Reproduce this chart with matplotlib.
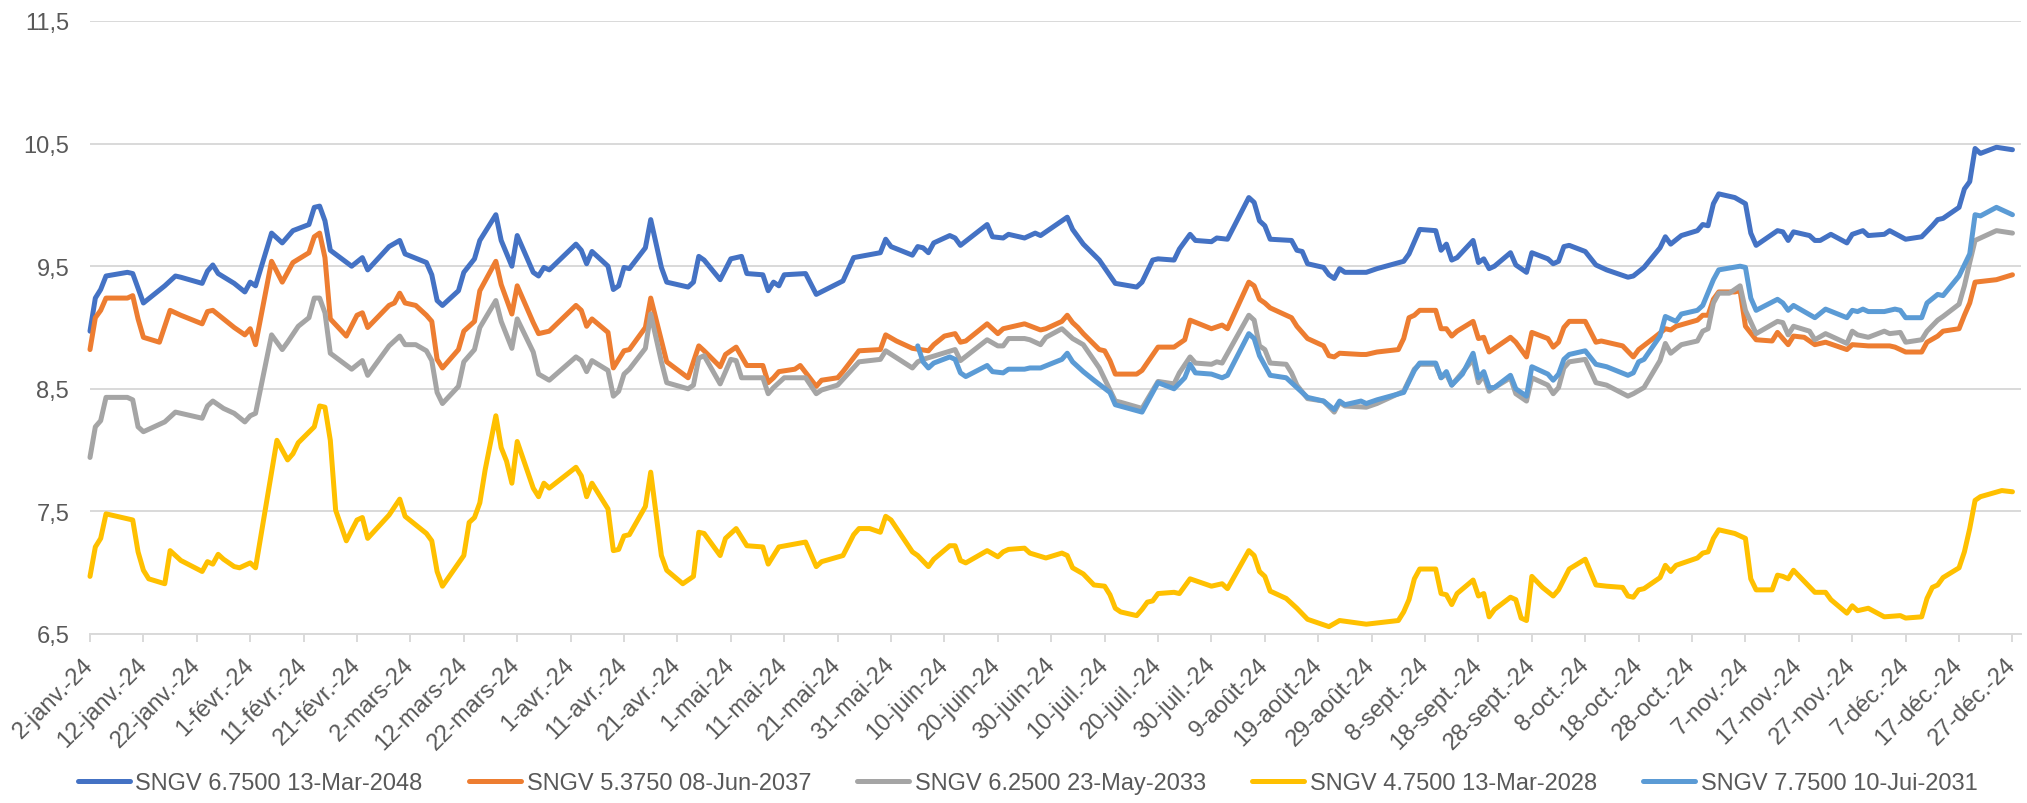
import matplotlib
matplotlib.use("Agg")
import matplotlib.pyplot as plt
import matplotlib.dates as mdates
import pandas as pd

plt.rcParams['font.family'] = ['Liberation Sans', 'DejaVu Sans']

START = pd.Timestamp('2024-01-02')

series_names = ['SNGV 6.7500 13-Mar-2048', 'SNGV 5.3750 08-Jun-2037',
                'SNGV 6.2500 23-May-2033', 'SNGV 4.7500 13-Mar-2028',
                'SNGV 7.7500 10-Jui-2031']
series_colors = ['#4472C4', '#ED7D31', '#A5A5A5', '#FFC000', '#5B9BD5']

# day offsets from 2 Jan 2024 and yields (%)
s2048_days = [0, 1, 2, 3, 7, 8, 10, 14, 16, 17,
              21, 22, 23, 24, 27, 29, 30, 31, 34, 36,
              38, 41, 42, 43, 44, 45, 49, 51, 52, 56,
              58, 59, 63, 64, 65, 66, 69, 70, 72, 73,
              76, 77, 79, 80, 83, 84, 85, 86, 91, 92,
              93, 94, 97, 98, 99, 100, 101, 104, 105, 107,
              108, 112, 113, 114, 115, 118, 120, 122, 123, 126,
              127, 128, 129, 130, 134, 136, 141, 143, 148, 149,
              150, 154, 155, 156, 157, 158, 161, 162, 163, 168,
              169, 171, 172, 175, 177, 178, 183, 184, 186, 189,
              192, 196, 197, 199, 200, 203, 204, 206, 207, 210,
              211, 213, 217, 218, 219, 220, 221, 225, 226, 227,
              228, 231, 232, 233, 234, 235, 239, 241, 246, 247,
              249, 252, 253, 254, 255, 256, 259, 260, 261, 262,
              263, 266, 267, 269, 270, 273, 274, 275, 276, 277,
              280, 282, 284, 288, 289, 291, 294, 295, 296, 298,
              301, 302, 303, 304, 305, 308, 310, 311, 312, 316,
              317, 318, 319, 322, 323, 324, 326, 329, 330, 332,
              333, 336, 337, 340, 343, 345, 346, 347, 350, 351,
              352, 353, 354, 357, 360]
s2048_vals = [8.97, 9.24, 9.31, 9.42, 9.45, 9.44, 9.20, 9.34, 9.42, 9.41,
              9.36, 9.46, 9.51, 9.44, 9.36, 9.29, 9.37, 9.34, 9.77, 9.69,
              9.79, 9.84, 9.98, 9.99, 9.87, 9.63, 9.50, 9.57, 9.47, 9.66,
              9.71, 9.60, 9.53, 9.43, 9.22, 9.18, 9.30, 9.45, 9.56, 9.71,
              9.92, 9.71, 9.50, 9.75, 9.45, 9.42, 9.49, 9.47, 9.68, 9.63,
              9.52, 9.62, 9.50, 9.31, 9.34, 9.49, 9.48, 9.65, 9.88, 9.49,
              9.37, 9.33, 9.37, 9.58, 9.55, 9.39, 9.56, 9.58, 9.44, 9.43,
              9.30, 9.37, 9.34, 9.43, 9.44, 9.27, 9.38, 9.57, 9.61, 9.72,
              9.66, 9.59, 9.66, 9.65, 9.61, 9.69, 9.75, 9.73, 9.67, 9.84,
              9.74, 9.73, 9.76, 9.73, 9.77, 9.75, 9.90, 9.80, 9.68, 9.55,
              9.36, 9.33, 9.37, 9.55, 9.56, 9.55, 9.64, 9.76, 9.71, 9.70,
              9.73, 9.72, 10.06, 10.02, 9.87, 9.83, 9.72, 9.71, 9.63, 9.62,
              9.52, 9.49, 9.43, 9.40, 9.48, 9.45, 9.45, 9.48, 9.54, 9.60,
              9.80, 9.79, 9.63, 9.68, 9.55, 9.57, 9.71, 9.53, 9.56, 9.48,
              9.50, 9.61, 9.51, 9.45, 9.61, 9.56, 9.52, 9.54, 9.66, 9.67,
              9.62, 9.51, 9.47, 9.41, 9.42, 9.49, 9.65, 9.74, 9.68, 9.75,
              9.79, 9.84, 9.83, 10.01, 10.09, 10.06, 10.01, 9.77, 9.67, 9.79,
              9.78, 9.71, 9.78, 9.75, 9.71, 9.71, 9.76, 9.69, 9.76, 9.79,
              9.75, 9.76, 9.79, 9.72, 9.74, 9.83, 9.88, 9.89, 9.98, 10.13,
              10.19, 10.46, 10.42, 10.47, 10.45]

s2037_days = [0, 1, 2, 3, 7, 8, 9, 10, 13, 15,
              17, 21, 22, 23, 25, 27, 29, 30, 31, 34,
              36, 38, 41, 42, 43, 44, 45, 48, 50, 51,
              52, 56, 57, 58, 59, 61, 63, 64, 65, 66,
              69, 70, 72, 73, 76, 77, 79, 80, 83, 84,
              86, 91, 92, 93, 94, 97, 98, 100, 101, 104,
              105, 108, 112, 114, 115, 118, 119, 121, 123, 126,
              127, 128, 129, 132, 133, 136, 137, 140, 141, 144,
              148, 149, 151, 154, 157, 158, 160, 162, 163, 164,
              168, 170, 171, 175, 178, 179, 182, 183, 184, 185,
              186, 189, 190, 191, 192, 196, 197, 200, 203, 205,
              206, 210, 212, 213, 217, 218, 219, 220, 221, 224,
              225, 226, 228, 231, 232, 233, 234, 238, 239, 241,
              245, 246, 247, 248, 249, 252, 253, 254, 255, 256,
              259, 260, 261, 262, 266, 267, 269, 270, 273, 274,
              275, 276, 277, 280, 282, 283, 287, 289, 290, 293,
              295, 296, 297, 301, 302, 303, 304, 305, 308, 309,
              310, 312, 315, 316, 318, 319, 321, 323, 325, 329,
              330, 333, 337, 338, 340, 343, 344, 346, 347, 350,
              351, 352, 353, 355, 357, 360]
s2037_vals = [8.82, 9.08, 9.14, 9.24, 9.24, 9.26, 9.07, 8.92, 8.88, 9.14,
              9.10, 9.03, 9.13, 9.14, 9.07, 9.00, 8.94, 8.99, 8.86, 9.54,
              9.37, 9.53, 9.61, 9.74, 9.77, 9.57, 9.07, 8.93, 9.10, 9.12,
              9.00, 9.18, 9.20, 9.28, 9.20, 9.18, 9.10, 9.05, 8.74, 8.67,
              8.82, 8.97, 9.05, 9.30, 9.54, 9.35, 9.11, 9.34, 9.04, 8.95,
              8.97, 9.18, 9.14, 9.01, 9.07, 8.96, 8.67, 8.81, 8.82, 9.00,
              9.24, 8.72, 8.59, 8.85, 8.81, 8.68, 8.78, 8.84, 8.69, 8.69,
              8.55, 8.59, 8.64, 8.66, 8.69, 8.52, 8.57, 8.59, 8.64, 8.81,
              8.82, 8.94, 8.89, 8.83, 8.81, 8.86, 8.93, 8.95, 8.88, 8.89,
              9.03, 8.95, 8.99, 9.03, 8.98, 8.99, 9.05, 9.10, 9.04, 9.00,
              8.95, 8.82, 8.81, 8.73, 8.62, 8.62, 8.65, 8.84, 8.84, 8.90,
              9.06, 8.99, 9.02, 8.99, 9.37, 9.34, 9.23, 9.20, 9.16, 9.10,
              9.08, 9.01, 8.91, 8.85, 8.77, 8.76, 8.79, 8.78, 8.78, 8.80,
              8.82, 8.91, 9.08, 9.10, 9.14, 9.14, 8.99, 8.99, 8.93, 8.97,
              9.05, 8.91, 8.92, 8.80, 8.92, 8.88, 8.76, 8.96, 8.91, 8.84,
              8.88, 9.00, 9.05, 9.05, 8.88, 8.89, 8.85, 8.76, 8.82, 8.92,
              8.99, 8.98, 9.01, 9.06, 9.10, 9.10, 9.23, 9.29, 9.29, 9.30,
              9.01, 8.90, 8.89, 8.96, 8.86, 8.93, 8.92, 8.86, 8.88, 8.82,
              8.86, 8.85, 8.85, 8.84, 8.80, 8.80, 8.88, 8.93, 8.97, 8.99,
              9.10, 9.20, 9.37, 9.38, 9.39, 9.43]

s2033_days = [0, 1, 2, 3, 7, 8, 9, 10, 14, 16,
              17, 21, 22, 23, 25, 27, 29, 30, 31, 34,
              36, 37, 39, 41, 42, 43, 44, 45, 49, 51,
              52, 56, 58, 59, 61, 63, 64, 65, 66, 69,
              70, 72, 73, 76, 77, 79, 80, 83, 84, 86,
              91, 92, 93, 94, 97, 98, 99, 100, 101, 104,
              105, 107, 108, 112, 113, 114, 115, 118, 120, 121,
              122, 126, 127, 128, 130, 134, 136, 137, 140, 144,
              148, 149, 154, 155, 156, 162, 163, 168, 170, 171,
              172, 175, 176, 178, 179, 182, 183, 184, 186, 189,
              192, 193, 197, 200, 203, 204, 206, 207, 210, 211,
              212, 217, 218, 219, 220, 221, 224, 225, 226, 228,
              231, 233, 234, 235, 239, 241, 246, 248, 249, 252,
              253, 254, 255, 259, 260, 261, 262, 263, 266, 267,
              269, 270, 273, 274, 275, 276, 277, 280, 282, 284,
              288, 289, 291, 294, 295, 296, 298, 301, 302, 303,
              304, 305, 307, 309, 310, 312, 316, 317, 318, 319,
              322, 323, 325, 329, 330, 331, 333, 336, 337, 339,
              340, 343, 344, 346, 347, 350, 351, 352, 353, 357,
              360]
s2033_vals = [7.94, 8.19, 8.24, 8.43, 8.43, 8.41, 8.19, 8.15, 8.23, 8.31,
              8.30, 8.26, 8.36, 8.40, 8.34, 8.30, 8.23, 8.28, 8.30, 8.94,
              8.82, 8.88, 9.01, 9.08, 9.24, 9.24, 9.12, 8.79, 8.66, 8.73,
              8.61, 8.85, 8.93, 8.86, 8.86, 8.81, 8.73, 8.47, 8.38, 8.52,
              8.72, 8.82, 9.00, 9.22, 9.05, 8.83, 9.07, 8.80, 8.62, 8.57,
              8.76, 8.73, 8.64, 8.73, 8.65, 8.44, 8.48, 8.62, 8.66, 8.83,
              9.11, 8.72, 8.55, 8.50, 8.53, 8.75, 8.77, 8.54, 8.74, 8.73,
              8.59, 8.59, 8.46, 8.51, 8.59, 8.59, 8.46, 8.49, 8.53, 8.72,
              8.74, 8.81, 8.67, 8.72, 8.74, 8.82, 8.73, 8.90, 8.85, 8.85,
              8.91, 8.91, 8.90, 8.86, 8.92, 8.99, 8.95, 8.91, 8.86, 8.67,
              8.40, 8.39, 8.34, 8.56, 8.54, 8.63, 8.76, 8.71, 8.70, 8.72,
              8.71, 9.10, 9.06, 8.85, 8.82, 8.71, 8.70, 8.63, 8.53, 8.42,
              8.40, 8.31, 8.39, 8.36, 8.35, 8.38, 8.48, 8.66, 8.70, 8.70,
              8.59, 8.62, 8.53, 8.74, 8.55, 8.61, 8.48, 8.51, 8.59, 8.46,
              8.40, 8.59, 8.53, 8.46, 8.51, 8.67, 8.72, 8.74, 8.55, 8.53,
              8.44, 8.46, 8.51, 8.73, 8.87, 8.79, 8.86, 8.89, 8.97, 8.99,
              9.20, 9.28, 9.28, 9.34, 9.14, 8.95, 9.05, 9.04, 8.94, 9.01,
              8.97, 8.90, 8.95, 8.87, 8.97, 8.94, 8.92, 8.97, 8.95, 8.96,
              8.88, 8.90, 8.97, 9.06, 9.09, 9.19, 9.34, 9.53, 9.71, 9.79,
              9.77]

s2028_days = [0, 1, 2, 3, 7, 8, 9, 10, 11, 14,
              15, 17, 21, 22, 23, 24, 25, 27, 28, 30,
              31, 35, 37, 38, 39, 42, 43, 44, 45, 46,
              48, 50, 51, 52, 56, 58, 59, 63, 64, 65,
              66, 70, 71, 72, 73, 74, 76, 77, 78, 79,
              80, 83, 84, 85, 86, 91, 92, 93, 94, 97,
              98, 99, 100, 101, 104, 105, 107, 108, 111, 113,
              114, 115, 118, 119, 121, 123, 126, 127, 128, 129,
              134, 136, 137, 141, 143, 144, 146, 148, 149, 150,
              154, 155, 157, 158, 161, 162, 163, 164, 168, 170,
              171, 172, 175, 176, 179, 182, 183, 184, 186, 188,
              190, 191, 192, 193, 196, 197, 198, 199, 200, 203,
              204, 206, 210, 212, 213, 217, 218, 219, 220, 221,
              224, 226, 228, 232, 234, 239, 241, 245, 246, 247,
              248, 249, 252, 253, 254, 255, 256, 259, 260, 261,
              262, 263, 266, 267, 268, 269, 270, 272, 274, 275,
              277, 280, 282, 284, 287, 288, 289, 290, 291, 294,
              295, 296, 297, 301, 302, 303, 304, 305, 308, 310,
              311, 312, 315, 316, 317, 318, 319, 323, 325, 326,
              329, 330, 331, 333, 336, 339, 340, 343, 344, 345,
              346, 347, 350, 351, 352, 353, 354, 358, 360]
s2028_vals = [6.97, 7.21, 7.28, 7.48, 7.44, 7.43, 7.17, 7.02, 6.95, 6.91,
              7.18, 7.10, 7.01, 7.09, 7.07, 7.15, 7.11, 7.05, 7.04, 7.08,
              7.04, 8.08, 7.92, 7.97, 8.06, 8.19, 8.36, 8.35, 8.08, 7.51,
              7.26, 7.43, 7.45, 7.28, 7.47, 7.60, 7.46, 7.32, 7.26, 7.01,
              6.89, 7.14, 7.41, 7.45, 7.57, 7.84, 8.28, 8.02, 7.91, 7.73,
              8.07, 7.69, 7.62, 7.73, 7.69, 7.86, 7.79, 7.62, 7.73, 7.52,
              7.18, 7.19, 7.30, 7.31, 7.54, 7.82, 7.14, 7.02, 6.91, 6.97,
              7.33, 7.32, 7.14, 7.28, 7.36, 7.22, 7.21, 7.07, 7.14, 7.21,
              7.25, 7.05, 7.09, 7.14, 7.31, 7.36, 7.36, 7.33, 7.46, 7.43,
              7.17, 7.14, 7.05, 7.11, 7.22, 7.22, 7.10, 7.08, 7.18, 7.13,
              7.17, 7.19, 7.20, 7.16, 7.12, 7.16, 7.14, 7.04, 6.99, 6.90,
              6.89, 6.82, 6.71, 6.68, 6.65, 6.70, 6.76, 6.77, 6.83, 6.84,
              6.83, 6.95, 6.89, 6.91, 6.87, 7.18, 7.14, 7.01, 6.97, 6.85,
              6.79, 6.71, 6.62, 6.56, 6.61, 6.58, 6.59, 6.61, 6.68, 6.78,
              6.95, 7.03, 7.03, 6.83, 6.82, 6.74, 6.83, 6.94, 6.81, 6.83,
              6.64, 6.70, 6.80, 6.78, 6.63, 6.61, 6.97, 6.88, 6.81, 6.86,
              7.03, 7.11, 6.90, 6.89, 6.88, 6.81, 6.80, 6.86, 6.87, 6.96,
              7.06, 7.01, 7.06, 7.12, 7.16, 7.17, 7.28, 7.35, 7.32, 7.28,
              6.95, 6.86, 6.86, 6.98, 6.97, 6.95, 7.02, 6.84, 6.84, 6.78,
              6.67, 6.73, 6.69, 6.71, 6.64, 6.65, 6.63, 6.64, 6.79, 6.88,
              6.90, 6.96, 7.04, 7.17, 7.36, 7.59, 7.62, 7.67, 7.66]

s2031_days = [155, 156, 157, 158, 161, 162, 163, 164, 168, 169,
              171, 172, 175, 176, 178, 182, 183, 184, 186, 188,
              191, 192, 197, 200, 203, 205, 206, 207, 210, 212,
              213, 217, 218, 219, 221, 224, 226, 228, 231, 233,
              234, 235, 238, 239, 241, 246, 248, 249, 252, 253,
              254, 255, 257, 259, 260, 261, 262, 263, 266, 267,
              269, 270, 273, 274, 275, 276, 277, 280, 282, 284,
              288, 289, 290, 291, 294, 295, 297, 298, 301, 302,
              304, 305, 309, 310, 311, 312, 316, 317, 318, 319,
              323, 325, 329, 330, 331, 332, 333, 336, 338, 339,
              340, 343, 344, 346, 347, 350, 352, 353, 354, 357,
              360]
s2031_vals = [8.85, 8.72, 8.67, 8.71, 8.76, 8.74, 8.63, 8.60, 8.69, 8.64,
              8.63, 8.66, 8.66, 8.67, 8.67, 8.74, 8.79, 8.72, 8.64, 8.57,
              8.47, 8.37, 8.31, 8.55, 8.50, 8.59, 8.70, 8.63, 8.62, 8.59,
              8.61, 8.95, 8.91, 8.77, 8.61, 8.59, 8.51, 8.43, 8.40, 8.33,
              8.40, 8.37, 8.40, 8.38, 8.41, 8.47, 8.65, 8.71, 8.71, 8.59,
              8.64, 8.53, 8.62, 8.79, 8.59, 8.64, 8.51, 8.51, 8.61, 8.50,
              8.44, 8.68, 8.62, 8.57, 8.62, 8.74, 8.78, 8.81, 8.70, 8.68,
              8.61, 8.63, 8.72, 8.74, 8.93, 9.09, 9.05, 9.11, 9.14, 9.18,
              9.39, 9.47, 9.50, 9.49, 9.24, 9.14, 9.23, 9.20, 9.14, 9.18,
              9.08, 9.15, 9.08, 9.14, 9.13, 9.15, 9.13, 9.13, 9.15, 9.14,
              9.08, 9.08, 9.20, 9.27, 9.26, 9.42, 9.60, 9.92, 9.91, 9.98,
              9.92]

y_ticks = [6.5, 7.5, 8.5, 9.5, 10.5, 11.5]
y_tick_labels = ['6,5', '7,5', '8,5', '9,5', '10,5', '11,5']
mois = ['janv.', 'févr.', 'mars', 'avr.', 'mai', 'juin',
        'juil.', 'août', 'sept.', 'oct.', 'nov.', 'déc.']

TXT = '#595959'
GRID = '#D9D9D9'
W, H = 2027, 804

fig = plt.figure(figsize=(W / 100, H / 100), dpi=100)
fig.patch.set_facecolor('white')
ax = fig.add_axes([90 / W, 169 / H, (2021 - 90) / W, (782 - 169) / H])
ax.set_facecolor('white')

all_days = [s2048_days, s2037_days, s2033_days, s2028_days, s2031_days]
all_vals = [s2048_vals, s2037_vals, s2033_vals, s2028_vals, s2031_vals]
for i, (d, v) in enumerate(zip(all_days, all_vals)):
    x = START + pd.to_timedelta(d, unit='D')
    ax.plot(x, v, color=series_colors[i], lw=3.6, label=series_names[i],
            solid_joinstyle='round', solid_capstyle='round', clip_on=False,
            zorder=3 + i)

ax.set_ylim(6.5, 11.5)
ax.set_xlim(START, START + pd.Timedelta(days=361.6))

ax.set_yticks(y_ticks)
ax.set_yticklabels(y_tick_labels)
ax.yaxis.grid(True, color=GRID, lw=1.4)
ax.set_axisbelow(True)
for s in ['left', 'right', 'top']:
    ax.spines[s].set_visible(False)
ax.spines['bottom'].set_color(GRID)
ax.spines['bottom'].set_linewidth(1.4)
ax.tick_params(axis='y', length=0, pad=15, labelsize=17, labelcolor=TXT)

tick_dates = pd.date_range('2024-01-02', '2024-12-27', freq='10D')
tick_labels = [f"{t.day}-{mois[t.month - 1]}-24" for t in tick_dates]
ax.set_xticks(mdates.date2num(tick_dates))
ax.set_xticklabels(tick_labels, rotation=45, ha='right', va='center',
                   rotation_mode='anchor')
ax.tick_params(axis='x', length=5.5, width=1.4, color=GRID, pad=14,
               labelsize=17, labelcolor=TXT)

handles, labels = ax.get_legend_handles_labels()
fig.legend(handles, labels, loc='center', bbox_to_anchor=(0.507, 20 / H),
           ncol=5, frameon=False, fontsize=17, handlelength=2.2,
           handletextpad=0.25, columnspacing=1.95, labelcolor=TXT)

fig.savefig('out.png', dpi=100, facecolor='white')
